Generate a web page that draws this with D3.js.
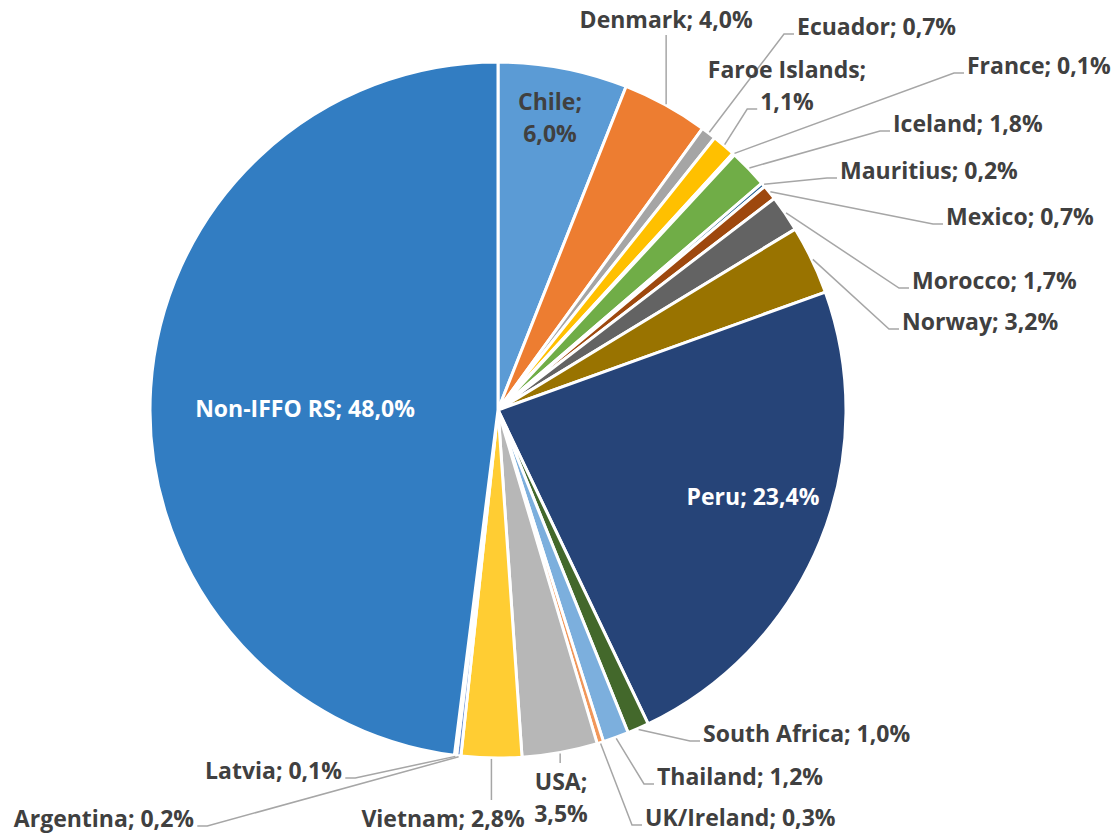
<!DOCTYPE html>
<meta charset="utf-8">
<script src="https://d3js.org/d3.v7.min.js"></script>
<style>
  body { margin: 0; background: #fff; }
  text { font-family: "Open Sans", "Noto Sans", sans-serif; font-weight: bold; }
</style>
<div id="chart"></div>
<script>

// data (clockwise from 12 o'clock)
var countries = ["Chile", "Denmark", "Ecuador", "Faroe Islands", "France", "Iceland",
                 "Mauritius", "Mexico", "Morocco", "Norway", "Peru", "South Africa",
                 "Thailand", "UK/Ireland", "USA", "Vietnam", "Argentina", "Latvia", "Non-IFFO RS"];
var shares = [6.0, 4.0, 0.7, 1.1, 0.1, 1.8, 0.2, 0.7, 1.7, 3.2, 23.4, 1.0,
              1.2, 0.3, 3.5, 2.8, 0.2, 0.1, 48.0];
var colors = ["#5B9BD5", "#ED7D31", "#A5A5A5", "#FFC000", "#4472C4", "#70AD47",
              "#255E91", "#9E480E", "#636363", "#997300", "#264478", "#43682B",
              "#7CAFDD", "#F1975A", "#B7B7B7", "#FFCD33", "#698ED0", "#8CC168", "#327DC2"];

// label placement (like manual placement in the spreadsheet)
// side: where the leader line meets the label
var labelLayout = [
  {x: 550, y: 110, anchor: "middle", lines: 2, fill: "#404040", side: null},
  {x: null, y: 28, anchor: "middle", lines: 1, fill: "#404040", side: "bottom"},
  {x: 797, y: 35, anchor: "start", lines: 1, fill: "#404040", side: "left"},
  {x: 787, y: 78, anchor: "middle", lines: 2, fill: "#404040", side: "left"},
  {x: 967, y: 74, anchor: "start", lines: 1, fill: "#404040", side: "left"},
  {x: 893, y: 132, anchor: "start", lines: 1, fill: "#404040", side: "left"},
  {x: 840, y: 179, anchor: "start", lines: 1, fill: "#404040", side: "left"},
  {x: 946, y: 225, anchor: "start", lines: 1, fill: "#404040", side: "left"},
  {x: 912, y: 289, anchor: "start", lines: 1, fill: "#404040", side: "left"},
  {x: 902, y: 330, anchor: "start", lines: 1, fill: "#404040", side: "left"},
  {x: 753, y: 505, anchor: "middle", lines: 1, fill: "#ffffff", side: null},
  {x: 703, y: 742, anchor: "start", lines: 1, fill: "#404040", side: "left"},
  {x: 657, y: 785, anchor: "start", lines: 1, fill: "#404040", side: "left"},
  {x: 645, y: 826, anchor: "start", lines: 1, fill: "#404040", side: "left"},
  {x: 561, y: 790, anchor: "middle", lines: 2, fill: "#404040", side: "top"},
  {x: 443, y: 827, anchor: "middle", lines: 1, fill: "#404040", side: "top"},
  {x: 194, y: 827, anchor: "end", lines: 1, fill: "#404040", side: "right"},
  {x: 342, y: 779, anchor: "end", lines: 1, fill: "#404040", side: "right"},
  {x: 305, y: 417, anchor: "middle", lines: 1, fill: "#ffffff", side: null}
];

var width = 1111, height = 834;
var cx = 498, cy = 410, radius = 348;
var lineH = 32;

var svg = d3.select("#chart").append("svg")
    .attr("width", width)
    .attr("height", height);

var pie = d3.pie().sort(null).value(function(d) { return d; });
var arcs = pie(shares);

var arc = d3.arc().innerRadius(0).outerRadius(radius);
var rim = d3.arc().innerRadius(radius + 1).outerRadius(radius + 1);

var g = svg.append("g").attr("transform", "translate(" + cx + "," + cy + ")");

g.selectAll("path.slice")
  .data(arcs)
  .enter()
  .append("path")
  .attr("class", "slice")
  .attr("d", arc)
  .style("fill", function(d, i) { return colors[i]; })
  .style("stroke", "#ffffff")
  .style("stroke-width", 3)
  .style("stroke-linejoin", "round");

function fmt(v) { return v.toFixed(1).replace(".", ","); }

var leaders = svg.append("g");
var labels = svg.append("g");

arcs.forEach(function(d, i) {
  var L = labelLayout[i];
  var p = rim.centroid(d);
  var sx = cx + p[0], sy = cy + p[1];
  var tx = L.x == null ? sx : L.x;
  var parts = L.lines == 2 ? [countries[i] + ";", fmt(shares[i]) + "%"]
                           : [countries[i] + "; " + fmt(shares[i]) + "%"];
  var t = labels.append("text")
      .attr("x", tx)
      .attr("y", L.y)
      .attr("text-anchor", L.anchor)
      .style("fill", L.fill)
      .style("font-size", "23px");
  var spans = parts.map(function(s, k) {
    return t.append("tspan").attr("x", tx).attr("y", L.y + k * lineH).text(s);
  });

  if (!L.side) return;
  var pts;
  if (L.side === "left") {
    // attach to the last line of the label
    var last = spans[spans.length - 1].node();
    var bx = last.getBBox().x;
    var ly = L.y + (spans.length - 1) * lineH - 1;
    pts = [[sx, sy], [bx - 13, ly], [bx - 3, ly]];
  } else if (L.side === "right") {
    var bb = t.node().getBBox();
    var rx = bb.x + bb.width;
    pts = [[sx, sy], [rx + 13, L.y - 1], [rx + 3, L.y - 1]];
  } else if (L.side === "bottom") {
    pts = [[sx, sy], [sx, L.y + 7]];
  } else if (L.side === "top") {
    pts = [[sx, sy], [sx, L.y - 27]];
  }
  leaders.append("path")
    .attr("d", d3.line()(pts))
    .style("fill", "none")
    .style("stroke", "#A6A6A6")
    .style("stroke-width", 1.5);
});

</script>
